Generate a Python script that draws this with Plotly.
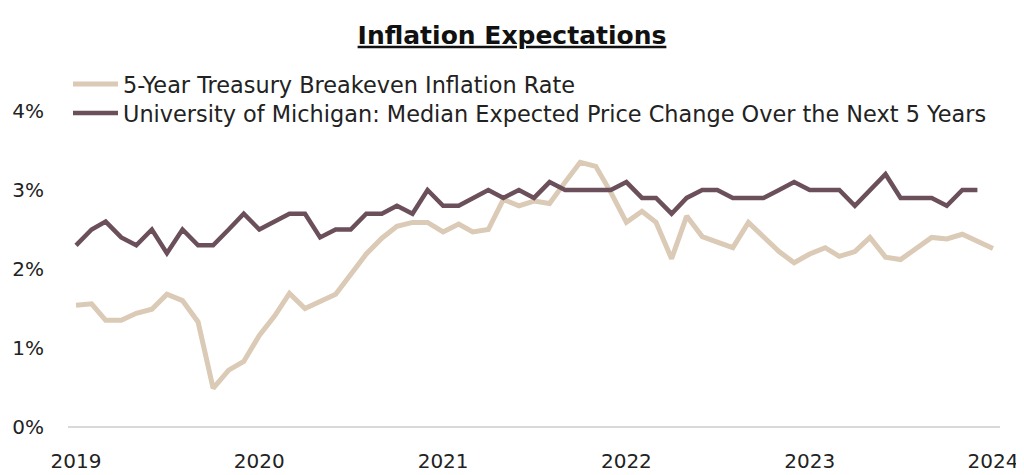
import plotly.graph_objects as go
import pandas as pd

months_breakeven = pd.date_range("2019-01-01", "2024-01-01", freq="MS")
months_michigan = pd.date_range("2019-01-01", "2023-12-01", freq="MS")

breakeven = [
    1.54, 1.56, 1.35, 1.35, 1.44, 1.49, 1.68, 1.60, 1.33, 0.49, 0.72, 0.83,
    1.16, 1.41, 1.69, 1.50, 1.59, 1.68, 1.93, 2.19, 2.39, 2.54, 2.59, 2.59,
    2.47, 2.57, 2.47, 2.50, 2.88, 2.80, 2.86, 2.83, 3.10, 3.35, 3.30, 2.97,
    2.59, 2.73, 2.59, 2.13, 2.67, 2.41, 2.34, 2.27, 2.59, 2.40, 2.22, 2.08,
    2.19, 2.27, 2.16, 2.22, 2.40, 2.15, 2.12, 2.26, 2.40, 2.38, 2.44, 2.35,
    2.26,
]

michigan = [
    2.3, 2.5, 2.6, 2.4, 2.3, 2.5, 2.2, 2.5, 2.3, 2.3, 2.5, 2.7,
    2.5, 2.6, 2.7, 2.7, 2.4, 2.5, 2.5, 2.7, 2.7, 2.8, 2.7, 3.0,
    2.8, 2.8, 2.9, 3.0, 2.9, 3.0, 2.9, 3.1, 3.0, 3.0, 3.0, 3.0,
    3.1, 2.9, 2.9, 2.7, 2.9, 3.0, 3.0, 2.9, 2.9, 2.9, 3.0, 3.1,
    3.0, 3.0, 3.0, 2.8, 3.0, 3.2, 2.9, 2.9, 2.9, 2.8, 3.0, 3.0,
]

year_ticks = ["2019-01-01", "2020-01-01", "2021-01-01", "2022-01-01", "2023-01-01", "2024-01-01"]
year_labels = ["2019", "2020", "2021", "2022", "2023", "2024"]
y_ticks = [0, 1, 2, 3, 4]
y_labels = ["0%", "1%", "2%", "3%", "4%"]

FONT = "DejaVu Sans"
LEGEND_FONT = dict(family=FONT, size=22.4, color="#222222")

fig = go.Figure()
fig.add_trace(go.Scatter(
    x=months_breakeven, y=breakeven, mode="lines",
    name="5-Year Treasury Breakeven Inflation Rate",
    line=dict(color="#DACAB6", width=5),
    legend="legend",
))
fig.add_trace(go.Scatter(
    x=months_michigan, y=michigan, mode="lines",
    name="University of Michigan: Median Expected Price Change Over the Next 5 Years",
    line=dict(color="#6B4F5B", width=4.5),
    legend="legend2",
))

# page body adds an 8px offset; plot area top at 55, 0% line at 419 (figure px), 79px per 1%
fig.update_layout(
    width=1024, height=475,
    margin=dict(l=60, r=32, t=55, b=56),
    paper_bgcolor="white", plot_bgcolor="white",
    font=dict(family=FONT, color="#222222"),
    title=dict(
        text="<b><u>Inflation Expectations</u></b>",
        x=(512 - 8) / 1024, xanchor="center", y=1 - 27 / 475, yanchor="middle",
        font=dict(family=FONT, size=25, color="#111111"),
    ),
    showlegend=True,
    legend=dict(
        x=0, y=1, xanchor="left", yanchor="top",
        font=LEGEND_FONT, bgcolor="rgba(0,0,0,0)", itemwidth=45,
    ),
    legend2=dict(
        x=0, y=1 - 29 / 364, xanchor="left", yanchor="top",
        font=LEGEND_FONT, bgcolor="rgba(0,0,0,0)", itemwidth=45,
    ),
    xaxis=dict(
        type="date",
        range=["2018-12-16", "2024-01-15"],
        tickvals=year_ticks, ticktext=year_labels,
        showgrid=False, zeroline=False, showline=False, ticks="",
        tickfont=dict(family=FONT, size=20, color="#222222"),
        ticklabelstandoff=20, automargin=False,
    ),
    yaxis=dict(
        range=[0, 364 / 79],
        tickvals=y_ticks, ticktext=y_labels,
        showgrid=False, zeroline=True, zerolinecolor="#D9D9D9", zerolinewidth=1.5,
        showline=False, ticks="",
        tickfont=dict(family=FONT, size=20, color="#222222"),
        ticklabelstandoff=23, automargin=False,
    ),
)

fig.write_html("out.html")
